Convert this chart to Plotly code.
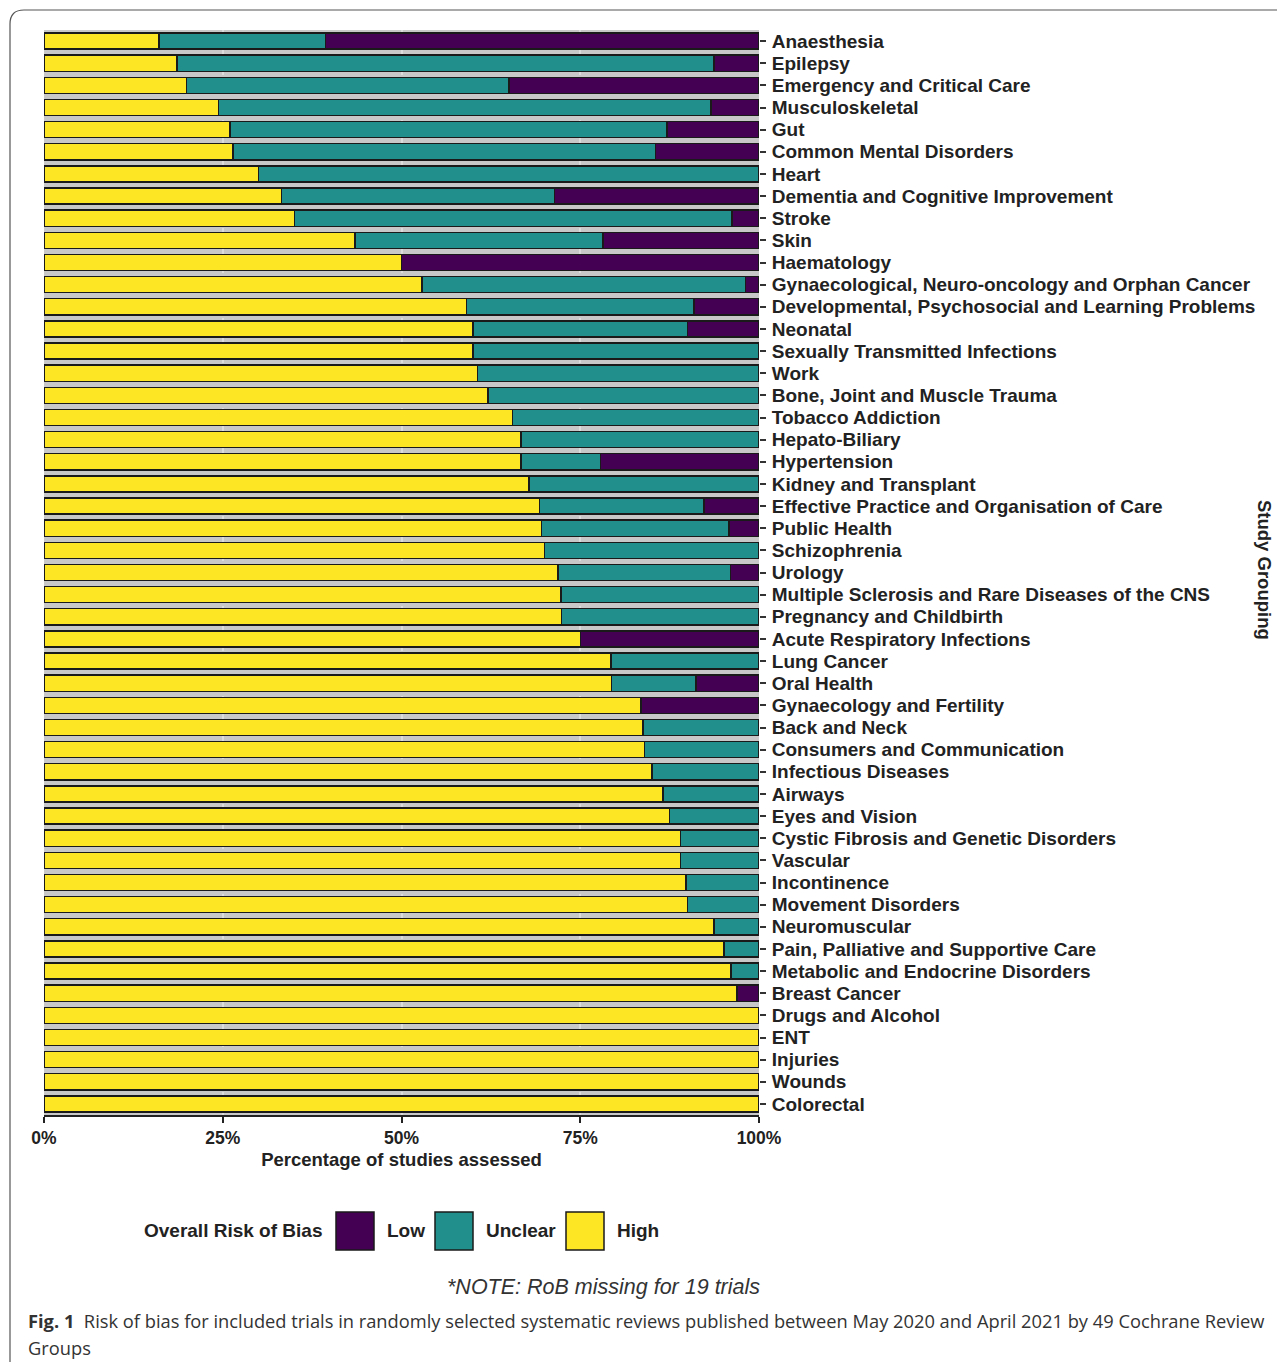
import plotly.graph_objects as go

categories = [
    "Anaesthesia", "Epilepsy", "Emergency and Critical Care", "Musculoskeletal", "Gut",
    "Common Mental Disorders", "Heart", "Dementia and Cognitive Improvement", "Stroke", "Skin",
    "Haematology", "Gynaecological, Neuro-oncology and Orphan Cancer",
    "Developmental, Psychosocial and Learning Problems", "Neonatal",
    "Sexually Transmitted Infections", "Work", "Bone, Joint and Muscle Trauma",
    "Tobacco Addiction", "Hepato-Biliary", "Hypertension", "Kidney and Transplant",
    "Effective Practice and Organisation of Care", "Public Health", "Schizophrenia", "Urology",
    "Multiple Sclerosis and Rare Diseases of the CNS", "Pregnancy and Childbirth",
    "Acute Respiratory Infections", "Lung Cancer", "Oral Health", "Gynaecology and Fertility",
    "Back and Neck", "Consumers and Communication", "Infectious Diseases", "Airways",
    "Eyes and Vision", "Cystic Fibrosis and Genetic Disorders", "Vascular", "Incontinence",
    "Movement Disorders", "Neuromuscular", "Pain, Palliative and Supportive Care",
    "Metabolic and Endocrine Disorders", "Breast Cancer", "Drugs and Alcohol", "ENT",
    "Injuries", "Wounds", "Colorectal",
]

high = [16.1, 18.6, 19.9, 24.4, 26.0, 26.4, 30.0, 33.2, 35.0, 43.5,
        50.0, 52.9, 59.1, 60.0, 60.0, 60.6, 62.1, 65.5, 66.7, 66.7,
        67.8, 69.3, 69.6, 70.0, 71.9, 72.3, 72.4, 75.0, 79.3, 79.4,
        83.5, 83.8, 84.0, 85.0, 86.6, 87.5, 89.0, 89.0, 89.8, 90.0,
        93.7, 95.1, 96.1, 96.9, 100.0, 100.0, 100.0, 100.0, 100.0]

unclear = [23.3, 75.1, 45.1, 68.9, 61.1, 59.1, 70.0, 38.2, 61.2, 34.7,
           0.0, 45.2, 31.8, 30.0, 40.0, 39.4, 37.9, 34.5, 33.3, 11.1,
           32.2, 23.0, 26.2, 30.0, 24.1, 27.7, 27.6, 0.0, 20.7, 11.8,
           0.0, 16.2, 16.0, 15.0, 13.4, 12.5, 11.0, 11.0, 10.2, 10.0,
           6.3, 4.9, 3.9, 0.0, 0.0, 0.0, 0.0, 0.0, 0.0]

low = [60.6, 6.3, 35.0, 6.7, 12.9, 14.5, 0.0, 28.6, 3.8, 21.8,
       50.0, 1.9, 9.1, 10.0, 0.0, 0.0, 0.0, 0.0, 0.0, 22.2,
       0.0, 7.7, 4.2, 0.0, 4.0, 0.0, 0.0, 25.0, 0.0, 8.8,
       16.5, 0.0, 0.0, 0.0, 0.0, 0.0, 0.0, 0.0, 0.0, 0.0,
       0.0, 0.0, 0.0, 3.1, 0.0, 0.0, 0.0, 0.0, 0.0]

x_ticks = [0, 25, 50, 75, 100]
x_tick_labels = ["0%", "25%", "50%", "75%", "100%"]

legend_names = ["Low", "Unclear", "High"]
colors = {"High": "#FDE725", "Unclear": "#21908C", "Low": "#440154"}

FONT = "Liberation Sans, Arial, sans-serif"

# The page body adds an 8px margin, so the figure is drawn 8px smaller/offset.
OFF = 8
W, H = 1285 - OFF, 1362 - OFF
L, R, T, B = 44, 759, 30, 1115  # plot area in reference pixels


def px(x):
    return (x - L) / (R - L)


def py(y):
    return (B - y) / (B - T)


fig = go.Figure()
for name, vals in [("High", high), ("Unclear", unclear), ("Low", low)]:
    fig.add_trace(go.Bar(
        y=categories, x=vals, name=name, orientation="h",
        marker=dict(color=colors[name], line=dict(color="#1a1a1a", width=1.5)),
        showlegend=False,
    ))

annotations = []
shapes = []

# Right-side rotated axis title
annotations.append(dict(text="<b>Study Grouping</b>", xref="paper", yref="paper",
                        x=px(1265), y=py(570), textangle=90, showarrow=False,
                        font=dict(family=FONT, size=18.5, color="#222"),
                        xanchor="center", yanchor="middle"))

# Manual legend
annotations.append(dict(text="<b>Overall Risk of Bias</b>", xref="paper", yref="paper",
                        x=px(324), y=py(1231), xanchor="right", yanchor="middle",
                        showarrow=False, font=dict(family=FONT, size=19, color="#222")))
box_x = [336, 435, 566]
for name, bx in zip(legend_names, box_x):
    shapes.append(dict(type="rect", xref="paper", yref="paper",
                       x0=px(bx), x1=px(bx + 38), y0=py(1250), y1=py(1212),
                       fillcolor=colors[name], line=dict(color="#1a1a1a", width=1.5)))
    annotations.append(dict(text="<b>%s</b>" % name, xref="paper", yref="paper",
                            x=px(bx + 49), y=py(1231), xanchor="left", yanchor="middle",
                            showarrow=False, font=dict(family=FONT, size=19, color="#222")))

# Note
annotations.append(dict(text="<i>*NOTE: RoB missing for 19 trials</i>", xref="paper", yref="paper",
                        x=px(603), y=py(1287), xanchor="center", yanchor="middle",
                        showarrow=False, font=dict(family=FONT, size=21.5, color="#333")))

# Caption
annotations.append(dict(text="<b>Fig. 1</b>  Risk of bias for included trials in randomly selected systematic reviews published between May 2020 and April 2021 by 49 Cochrane Review",
                        xref="paper", yref="paper", x=px(26), y=py(1320),
                        xanchor="left", yanchor="middle", showarrow=False,
                        font=dict(family="Open Sans, sans-serif", size=18.3, color="#333")))
annotations.append(dict(text="Groups", xref="paper", yref="paper", x=px(26), y=py(1347),
                        xanchor="left", yanchor="middle", showarrow=False,
                        font=dict(family="Open Sans, sans-serif", size=18.3, color="#333")))

# Outer frame (rounded top-left corner, cut at right and bottom)
x0, y0, rr = 10, 10, 14
x_end, y_end = 1300, 1380
path = "M %f,%f L %f,%f Q %f,%f %f,%f L %f,%f" % (
    px(x0), py(y_end), px(x0), py(y0 + rr), px(x0), py(y0), px(x0 + rr), py(y0),
    px(x_end), py(y0))
shapes.append(dict(type="path", xref="paper", yref="paper", path=path,
                   line=dict(color="#555", width=1.2)))

fig.update_layout(
    width=W, height=H,
    margin=dict(l=L - OFF, r=1285 - R, t=T - OFF, b=1362 - B, pad=0),
    barmode="stack", bargap=0.27,
    paper_bgcolor="white", plot_bgcolor="#c8c8c8",
    font=dict(family=FONT, color="#222"),
    annotations=annotations, shapes=shapes,
    xaxis=dict(
        range=[0, 100], tickvals=x_ticks, ticktext=["<b>%s</b>" % t for t in x_tick_labels],
        tickfont=dict(family=FONT, size=17.5, color="#222"),
        showgrid=True, gridcolor="#dcdcdc", gridwidth=2, griddash="dash",
        zeroline=False, showline=True, linecolor="#222", linewidth=2,
        ticks="outside", ticklen=6, tickwidth=1.5, tickcolor="#222",
        layer="above traces", fixedrange=True,
        title=dict(text="<b>Percentage of studies assessed</b>",
                   font=dict(family=FONT, size=18.5, color="#222"), standoff=6),
    ),
    yaxis=dict(
        categoryorder="array", categoryarray=categories,
        tickmode="array", tickvals=categories,
        ticktext=["<b>%s</b>" % c for c in categories],
        range=[48.5, -0.5], side="right",
        tickfont=dict(family=FONT, size=19, color="#222"),
        ticks="outside", ticklen=6, tickwidth=1.5, tickcolor="#333",
        ticklabelstandoff=2,
        showgrid=False, zeroline=False, showline=False, fixedrange=True,
    ),
)

fig.write_html("out.html")
